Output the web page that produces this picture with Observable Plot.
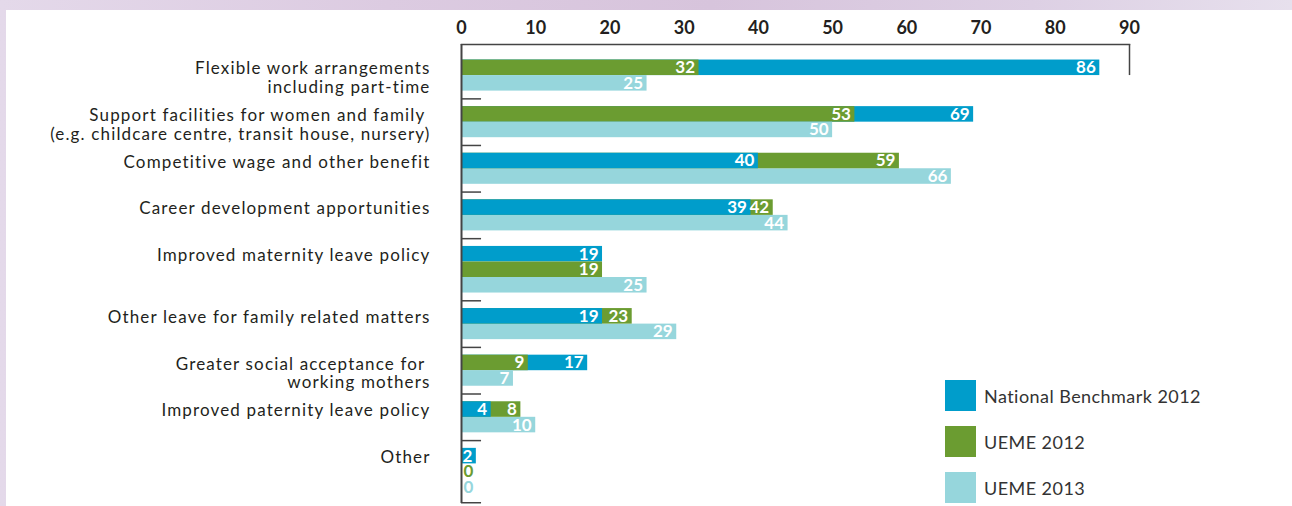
<!DOCTYPE html>
<html><head><meta charset="utf-8">
<script src="https://cdn.jsdelivr.net/npm/d3@7"></script>
<script src="https://cdn.jsdelivr.net/npm/@observablehq/plot@0.6"></script>
<style>
html,body{margin:0;padding:0;width:1292px;height:506px;overflow:hidden;}
body{position:relative;font-family:Lato,sans-serif;background:linear-gradient(90deg,#e4d9ea 0%,#dccbe1 30%,#d7c4dc 55%,#ddd0e4 80%,#e7e0ed 100%);}
#panel{position:absolute;left:6px;top:10px;right:0;bottom:0;background:#fff;}
#chart{position:absolute;left:0;top:0;}
#legend{position:absolute;left:945px;top:380px;}
.item{display:flex;align-items:center;height:31px;margin-bottom:15px;}
.sw{width:31px;height:31px;margin-right:8px;flex:none;}
.lab{font-size:18px;color:#333;white-space:nowrap;letter-spacing:0.45px;}
g[aria-description="category-labels"] text{letter-spacing:1.15px;}
</style></head><body>
<div id="panel"></div><div id="chart"></div><div id="legend"></div>
<script>
const categories = [
  "Flexible work arrangements\nincluding part-time",
  "Support facilities for women and family\u00a0\n(e.g. childcare centre, transit house, nursery)",
  "Competitive wage and other benefit",
  "Career development apportunities",
  "Improved maternity leave policy",
  "Other leave for family related matters",
  "Greater social acceptance for\u00a0\nworking mothers",
  "Improved paternity leave policy",
  "Other"
];
const nationalBenchmark2012 = [86, 69, 40, 39, 19, 19, 17, 4, 2];
const ueme2012 = [32, 53, 59, 42, 19, 23, 9, 8, 0];
const ueme2013 = [25, 50, 66, 44, 25, 29, 7, 10, 0];
// whether National Benchmark and UEME 2012 share one row (overlapping bars)
const sharedRow = [true, true, true, true, false, true, true, true, false];
const seriesNames = ["National Benchmark 2012", "UEME 2012", "UEME 2013"];
const seriesColors = ["#009DCB", "#6B9C31", "#96D6DC"];
const xTicks = [0, 10, 20, 30, 40, 50, 60, 70, 80, 90];

const seriesValues = [nationalBenchmark2012, ueme2012, ueme2013];
const domain = [];
const gapKeys = [];
const firstRow = [];
const records = [];
categories.forEach((c, i) => {
  const g = "gap" + i; domain.push(g); gapKeys.push(g);
  const rows = sharedRow[i] ? [[0, 1], [2]] : [[0], [1], [2]];
  rows.forEach((ss, r) => {
    const key = `c${i}r${r}`; domain.push(key);
    if (r === 0) firstRow.push(key);
    ss.forEach(s => records.push({cat: i, series: seriesNames[s], value: seriesValues[s][i], row: key}));
  });
});
domain.push("gapEnd"); gapKeys.push("gapEnd");
records.sort((a, b) => b.value - a.value);

const ink = "#231f20";
const plot = Plot.plot({
  width: 1292, height: 512,
  marginLeft: 461, marginRight: 163, marginTop: 44, marginBottom: 2,
  style: {fontFamily: "Lato, sans-serif", background: "transparent", overflow: "visible"},
  x: {domain: [0, 90], label: null},
  y: {type: "band", domain, paddingInner: 0, paddingOuter: 0, round: false, axis: null},
  color: {domain: seriesNames, range: seriesColors},
  marks: [
    Plot.barX(records, {x1: 0, x2: "value", y: "row", fill: "series"}),
    Plot.text(records.filter(d => d.value > 0), {x: "value", y: "row", text: d => String(d.value), textAnchor: "end", dx: -4, fill: "white", fontSize: 17, fontWeight: 700}),
    Plot.text(records.filter(d => d.value === 0), {x: "value", y: "row", text: d => String(d.value), textAnchor: "start", dx: 2, fill: "series", fontSize: 17, fontWeight: 700}),
    Plot.frame({anchor: "top", stroke: "#444", strokeWidth: 1.5}),
    Plot.ruleX([0], {stroke: "#444", strokeWidth: 2, insetBottom: 7}),
    Plot.ruleX(xTicks.slice(1, -1), {x: d => d, y: () => "gap0", stroke: "#555", strokeWidth: 1.5}),
    Plot.ruleX([90], {x: d => d, y1: () => "gap0", y2: () => firstRow[0], stroke: "#444", strokeWidth: 1.5}),
    Plot.ruleY(gapKeys.slice(1), {y: d => d, x1: 0, x2: 2.7, stroke: "#444", strokeWidth: 1.5}),
    Plot.text(categories, {x: 0, y: (d, i) => firstRow[i], text: d => d, textAnchor: "end", dx: -31, lineAnchor: "top", dy: -6.6, lineHeight: 1.1, fontSize: 17, fill: ink, ariaDescription: "category-labels"}),
    Plot.axisX(xTicks, {anchor: "top", tickSize: 0, tickPadding: 11, fontSize: 18, fontWeight: 700, fill: ink, label: null})
  ]
});
document.getElementById("chart").appendChild(plot);

const legend = document.getElementById("legend");
seriesNames.forEach((n, i) => {
  const item = document.createElement("div"); item.className = "item";
  const sw = document.createElement("div"); sw.className = "sw"; sw.style.background = seriesColors[i];
  const lab = document.createElement("div"); lab.className = "lab"; lab.textContent = n;
  item.appendChild(sw); item.appendChild(lab); legend.appendChild(item);
});
</script></body></html>
